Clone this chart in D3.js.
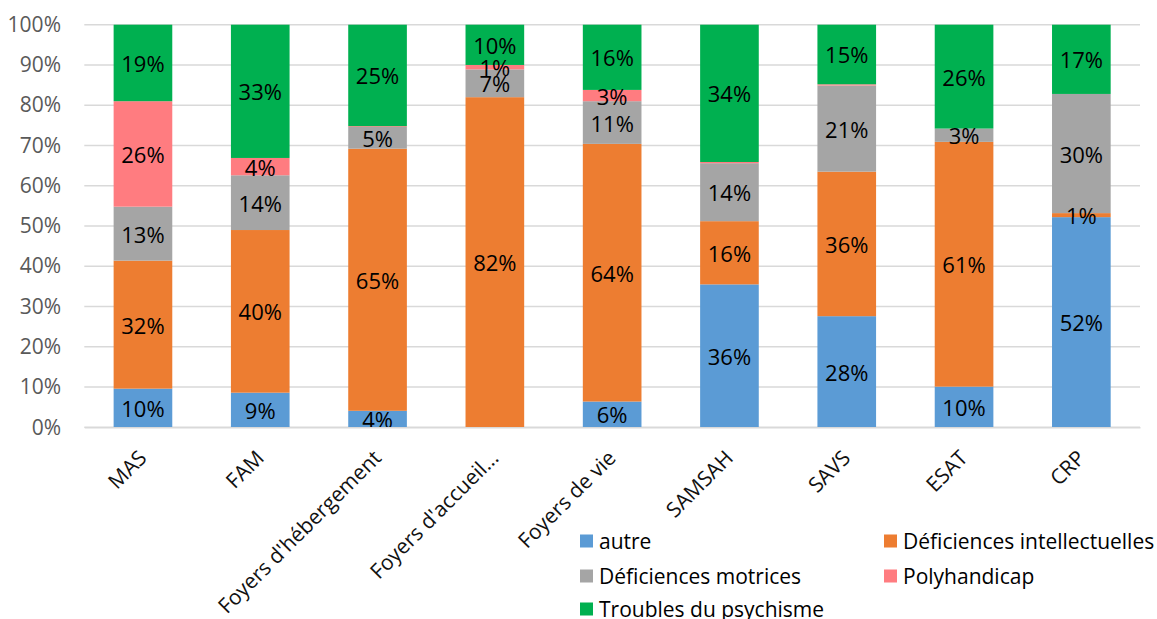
<!DOCTYPE html>
<html>
<head>
<meta charset="utf-8">
<script src="https://cdn.jsdelivr.net/npm/d3@7"></script>
<style>
  html, body { margin: 0; padding: 0; background: #fff; }
  svg { display: block; font-family: "Open Sans", sans-serif; }
</style>
</head>
<body>
<svg id="chart" width="1157" height="619"></svg>
<script>
const categories = ["MAS", "FAM", "Foyers d'hébergement", "Foyers d'accueil...", "Foyers de vie", "SAMSAH", "SAVS", "ESAT", "CRP"];
const seriesNames = ["autre", "Déficiences intellectuelles", "Déficiences motrices", "Polyhandicap", "Troubles du psychisme"];
const autre      = [9.6, 8.6, 4.1, 0, 6.4, 35.5, 27.6, 10.1, 52.2];
const defIntel   = [31.8, 40.4, 65.1, 82.0, 64.0, 15.7, 35.9, 60.8, 1.0];
const defMot     = [13.4, 13.6, 5.4, 6.9, 10.6, 14.4, 21.4, 3.3, 29.6];
const polyhand   = [26.2, 4.3, 0.2, 1.1, 2.8, 0.3, 0.3, 0, 0];
const troubles   = [19.0, 33.1, 25.2, 10.0, 16.2, 34.1, 14.8, 25.8, 17.2];
const yTicks = [0, 10, 20, 30, 40, 50, 60, 70, 80, 90, 100];
const colors = ["#5B9BD5", "#ED7D31", "#A5A5A5", "#FF7C80", "#00B050"];

const seriesValues = [autre, defIntel, defMot, polyhand, troubles];
const rows = categories.map((c, i) => {
  const r = { cat: c };
  seriesNames.forEach((s, k) => r[s] = seriesValues[k][i]);
  return r;
});
const stacked = d3.stack().keys(seriesNames)(rows);

const svg = d3.select("#chart");
const mLeft = 84.3, mRight = 1140, mTop = 24.7, mBottom = 427.3;

const x = d3.scaleBand().domain(categories).range([mLeft, mRight]).paddingInner(0.5).paddingOuter(0.25);
const y = d3.scaleLinear().domain([0, 100]).range([mBottom, mTop]);

// gridlines
svg.append("g").selectAll("line").data(yTicks).join("line")
  .attr("x1", mLeft).attr("x2", mRight)
  .attr("y1", d => y(d)).attr("y2", d => y(d))
  .attr("stroke", "#d9d9d9").attr("stroke-width", 1.5);

// y axis labels
const yAxis = d3.axisLeft(y).tickValues(yTicks).tickFormat(d => d + "%").tickSize(0).tickPadding(0);
const gy = svg.append("g").attr("transform", `translate(${61},0)`).call(yAxis);
gy.select(".domain").remove();
gy.selectAll("text").attr("fill", "#595959").style("font-size", "21px").style("font-family", "'Open Sans', sans-serif");

// bars
const layer = svg.append("g").selectAll("g").data(stacked).join("g")
  .attr("fill", (d, i) => colors[i]);
layer.selectAll("rect").data(d => d).join("rect")
  .attr("x", d => x(d.data.cat))
  .attr("width", x.bandwidth())
  .attr("y", d => y(d[1]))
  .attr("height", d => y(d[0]) - y(d[1]));

// data labels
const lab = svg.append("g");
stacked.forEach((s) => {
  s.forEach(d => {
    const v = d[1] - d[0];
    if (v < 0.5) return;
    lab.append("text")
      .attr("x", x(d.data.cat) + x.bandwidth() / 2)
      .attr("y", y((d[0] + d[1]) / 2))
      .attr("text-anchor", "middle")
      .attr("dominant-baseline", "central")
      .attr("fill", "#000")
      .style("font-size", "22px")
      .text(Math.round(v) + "%");
  });
});

// x axis
const xAxis = d3.axisBottom(x).tickSize(0).tickPadding(0);
const gx = svg.append("g").attr("transform", `translate(0,${mBottom})`).call(xAxis);
gx.select(".domain").attr("stroke", "#d9d9d9").attr("stroke-width", 1.5);
gx.selectAll("text")
  .attr("fill", "#111")
  .style("font-size", "21px")
  .style("font-family", "'Open Sans', sans-serif")
  .attr("text-anchor", "end")
  .attr("dy", null)
  .attr("y", null)
  .attr("transform", "translate(5,32) rotate(-45)");

// legend
const legendPos = [
  [580, 541], [884, 541],
  [580, 576], [884, 576],
  [580, 609]
];
const lg = svg.append("g");
seriesNames.forEach((s, i) => {
  const [lx, ly] = legendPos[i];
  lg.append("rect").attr("x", lx).attr("y", ly - 6.5).attr("width", 13).attr("height", 13).attr("fill", colors[i]);
  lg.append("text").attr("x", lx + 19).attr("y", ly).attr("dominant-baseline", "central")
    .attr("fill", "#000").style("font-size", "21px").text(s);
});
</script>
</body>
</html>
